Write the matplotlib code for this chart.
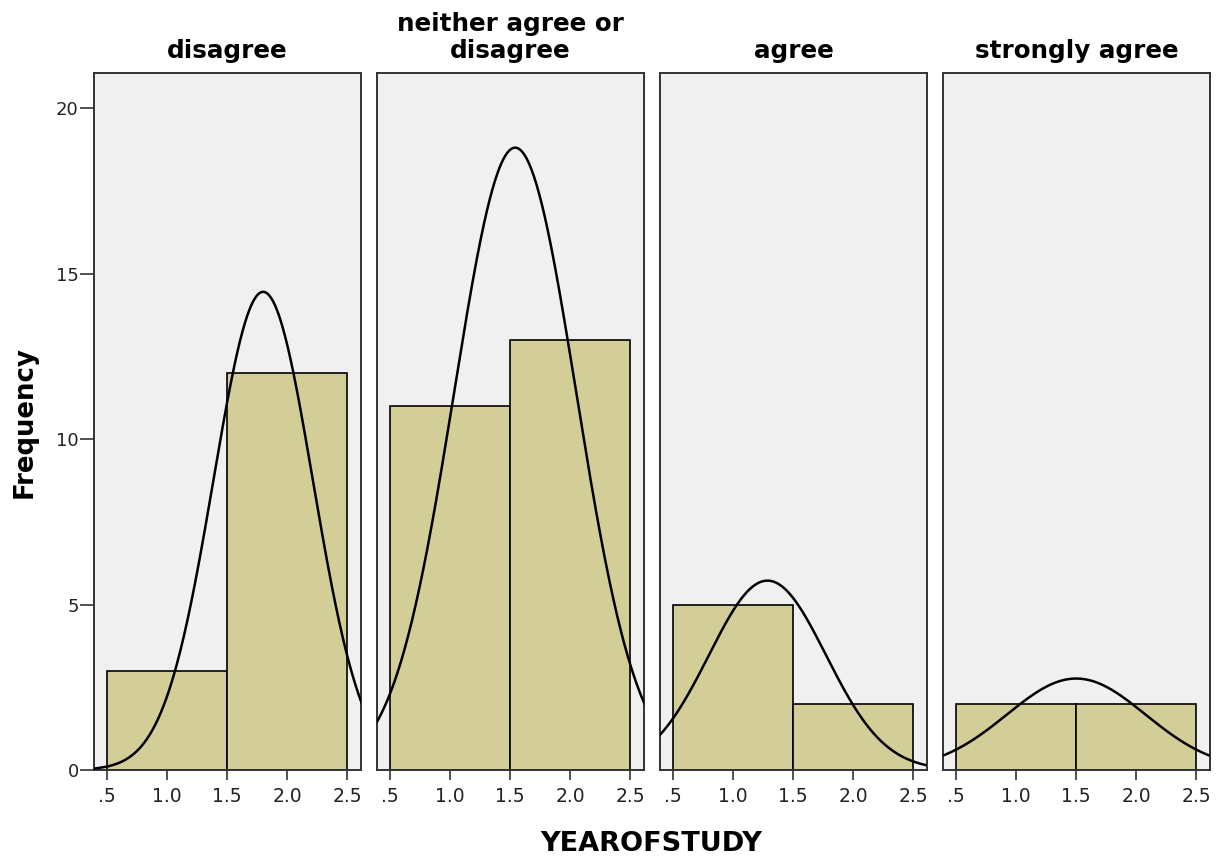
import numpy as np
import matplotlib
matplotlib.use("Agg")
from matplotlib import pyplot as plt

# Histogram of YEAROFSTUDY split by response group
groups = ["disagree", "neither agree or\ndisagree", "agree", "strongly agree"]
year_values = [1, 2]
counts = [
    [3, 12],
    [11, 13],
    [5, 2],
    [2, 2],
]
x_ticks = [0.5, 1.0, 1.5, 2.0, 2.5]
x_tick_labels = [".5", "1.0", "1.5", "2.0", "2.5"]
y_ticks = [0, 5, 10, 15, 20]

bar_color = "#D3CE98"
panel_bg = "#F0F0F0"
frame_color = "#333333"

plt.rcParams["font.family"] = ["DejaVu Sans"]

fig, axes = plt.subplots(1, 4, figsize=(12.2, 8.56), dpi=100, sharey=True)
fig.subplots_adjust(left=0.077, right=0.9918, bottom=0.1005, top=0.9144, wspace=0.06)

x_curve = np.linspace(0.38, 2.63, 300)

for i, ax in enumerate(axes):
    c = np.array(counts[i], dtype=float)
    v = np.array(year_values, dtype=float)
    ax.set_facecolor(panel_bg)
    ax.bar(v, c, width=1.0, color=bar_color, edgecolor="black", linewidth=1.2, zorder=2)

    # normal curve fitted to the grouped data (mean, sample sd), scaled to counts
    n = c.sum()
    mean = (c * v).sum() / n
    sd = np.sqrt((c * (v - mean) ** 2).sum() / (n - 1))
    dens = n * 1.0 / (sd * np.sqrt(2 * np.pi)) * np.exp(-0.5 * ((x_curve - mean) / sd) ** 2)
    ax.plot(x_curve, dens, color="black", linewidth=1.8, zorder=3)

    ax.set_xlim(0.39, 2.615)
    ax.set_ylim(0, 21.06)
    ax.set_xticks(x_ticks)
    ax.set_xticklabels(x_tick_labels, fontsize=13.5, color="#222222")
    ax.tick_params(axis="x", length=7, width=1.2, pad=5, color=frame_color)
    ax.set_title(groups[i], fontsize=17.7, fontweight="bold", pad=11, linespacing=1.15)
    for s in ax.spines.values():
        s.set_color(frame_color)
        s.set_linewidth(1.4)
    if i == 0:
        ax.set_yticks(y_ticks)
        ax.set_yticklabels([str(t) for t in y_ticks], fontsize=13, color="#222222")
        ax.tick_params(axis="y", length=10, width=1.2, pad=1, color=frame_color)
    else:
        ax.tick_params(axis="y", left=False, labelleft=False)

axes[0].set_ylabel("Frequency", fontsize=18.7, fontweight="bold", labelpad=13)
fig.text(0.534, 0.006, "YEAROFSTUDY", ha="center", va="baseline", fontsize=19.5, fontweight="bold")

fig.savefig("out.png", dpi=100)
